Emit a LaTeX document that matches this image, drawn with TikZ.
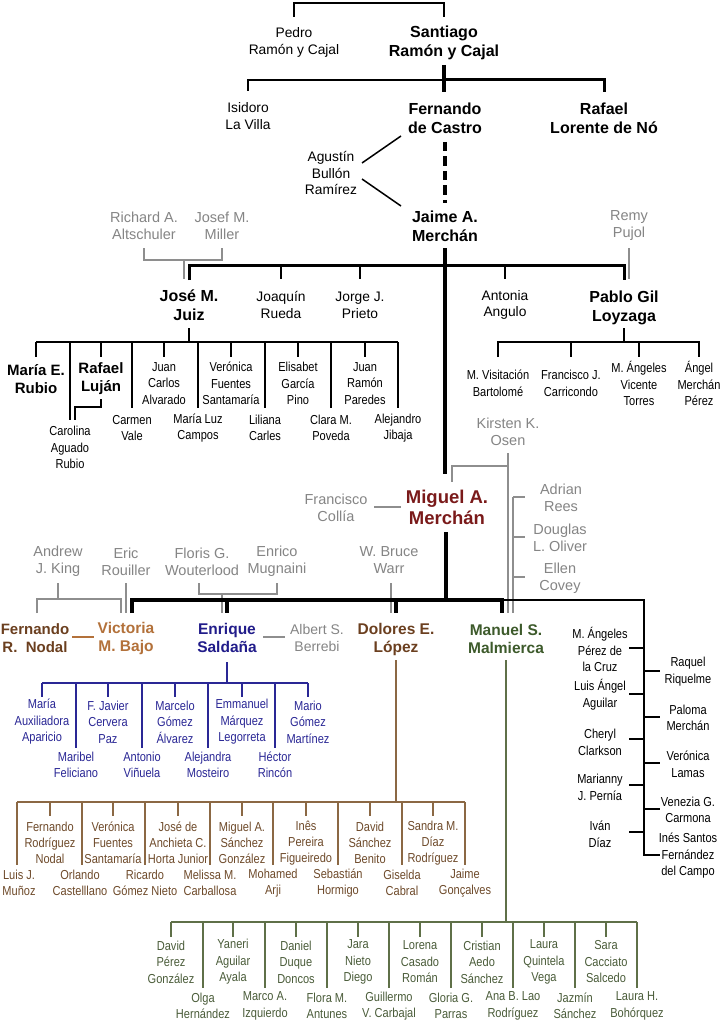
\documentclass[tikz,border=0pt]{standalone}
\usepackage{fontspec}
\setmainfont{Liberation Sans}
\newfontfamily\nfont[FakeStretch=0.85]{Liberation Sans}
\newfontfamily\rfont{Liberation Sans}
\definecolor{grayT}{HTML}{858585}
\definecolor{grayL}{HTML}{8E8E8E}
\definecolor{dred}{HTML}{7A1A1A}
\definecolor{brwn}{HTML}{6B3F1F}
\definecolor{orng}{HTML}{B3713A}
\definecolor{navy}{HTML}{211C8A}
\definecolor{grn}{HTML}{3D5A2B}
\definecolor{navyS}{HTML}{2A2795}
\definecolor{brwnS}{HTML}{6E4A2A}
\definecolor{brwnL}{HTML}{8B6844}
\definecolor{grnS}{HTML}{4A5C39}
\definecolor{grnL}{HTML}{5F7048}
\newcommand\stub[4][]{\draw[#1] (#2 |- 0,#3) -- (#2 |- 0,#4);}
\tikzset{
  base/.style={align=center, inner sep=0pt, outer sep=0pt},
  nm/.style={base, font=\nfont\fontsize{13}{16.5}\selectfont},
  tp/.style={base, font=\rfont\fontsize{13.8}{16.8}\selectfont},
  bd/.style={base, font=\rfont\bfseries\fontsize{16}{18.5}\selectfont},
  bdc/.style={base, font=\rfont\bfseries\fontsize{15.5}{18}\selectfont},
  bds/.style={base, font=\rfont\bfseries\fontsize{15}{18}\selectfont},
  gy/.style={base, text=grayT, font=\rfont\fontsize{14.5}{17}\selectfont},
  navyT/.style={nm, text=navyS},
  brwnT/.style={base, text=brwnS, font=\nfont\fontsize{13}{15.8}\selectfont},
  grnT/.style={nm, text=grnS},
  ln/.style={line width=1.5pt, black},
  gl/.style={line width=2pt, grayL},
  nl/.style={line width=1.6pt, navyS},
  bl/.style={line width=1.6pt, brwnL},
  ggl/.style={line width=1.6pt, grnL},
}
\begin{document}
\begin{tikzpicture}[x=1pt,y=-1pt, line join=miter]
\path[use as bounding box, fill=white] (0,0) rectangle (722,1024);

% ---------- top generations
\node[tp] (pedro) at (294,42.5) {Pedro\\Ramón y Cajal};
\node[bd] (santiago) at (444,43) {Santiago\\Ramón y Cajal};
\draw[ln] (pedro |- 0,17) -- (pedro |- 0,3) -- (santiago |- 0,3) -- (santiago |- 0,17);
\node[tp] (isidoro) at (248,116) {Isidoro\\La Villa};
\node[bd] (castro) at (445,118.5) {Fernando\\de Castro};
\node[bd] (lorente) at (604,118.5) {Rafael\\Lorente de Nó};
\draw[line width=4pt] (santiago |- 0,65) -- (santiago |- 0,92);
\draw[line width=2pt] (isidoro |- 0,91) -- (isidoro |- 0,80) -- (santiago |- 0,80);
\draw[line width=3pt] (santiago |- 0,80) -- (lorente |- 0,80) -- (lorente |- 0,92);
\node[tp] (agustin) at (331,173) {Agustín\\Bullón\\Ramírez};
\draw[line width=4pt, dash pattern=on 9.5pt off 5pt] (castro |- 0,142) -- (castro |- 0,203);
\coordinate (ag1) at (362,163); \coordinate (ag2) at (362,179);
\coordinate (fc) at (401,136); \coordinate (jm) at (401,206);
\draw[ln] (ag1) -- (fc);
\draw[ln] (ag2) -- (jm);

\node[bd] (jaime) at (445,226.5) {Jaime A.\\Merchán};
\node[gy] (richard) at (144,226) {Richard A.\\Altschuler};
\node[gy] (josef) at (222,226) {Josef M.\\Miller};
\node[gy] (remy) at (629,226) {Remy\\Pujol};
\node[bd] (juiz) at (189,305) {José M.\\Juiz};
\node[tp] (rueda) at (281,305) {Joaquín\\Rueda};
\node[tp] (prieto) at (360,305) {Jorge J.\\Prieto};
\node[tp] (angulo) at (505,305) {Antonia\\Angulo};
\node[bd] (loyzaga) at (624,308) {Pablo Gil\\Loyzaga};

\draw[gl] (richard |- 0,248) -- (richard |- 0,260) -- (josef |- 0,260) -- (josef |- 0,248);
\draw[gl] (184,260) -- (184,279);
\draw[gl] (remy |- 0,248) -- (remy |- 0,279);
\draw[line width=3pt] (juiz |- 0,280) -- (juiz |- 0,265) -- (loyzaga |- 0,265) -- (loyzaga |- 0,280);
\stub[ln]{rueda}{265}{279}
\stub[ln]{prieto}{265}{279}
\stub[ln]{angulo}{265}{279}
\draw[line width=4.5pt] (jaime |- 0,248) -- (jaime |- 0,474);

% ---------- Juiz students
\node[bds] (rubio) at (36,379) {María E.\\Rubio};
\node[bds] (lujan) at (101,379) {Rafael\\Luján};
\node[nm] (carolina) at (70,447.5) {Carolina\\Aguado\\Rubio};
\node[nm] (vale) at (132,428) {Carmen\\Vale};
\node[nm] (alvarado) at (164,383.5) {Juan\\Carlos\\Alvarado};
\node[nm] (campos) at (198,428) {María Luz\\Campos};
\node[nm] (fuentes) at (231,383.5) {Verónica\\Fuentes\\Santamaría};
\node[nm] (carles) at (265,428) {Liliana\\Carles};
\node[nm] (garcia) at (298,383.5) {Elisabet\\García\\Pino};
\node[nm] (poveda) at (331,428) {Clara M.\\Poveda};
\node[nm] (paredes) at (365,383.5) {Juan\\Ramón\\Paredes};
\node[nm] (jibaja) at (398,428) {Alejandro\\Jibaja};
\draw[line width=2.5pt] (juiz |- 0,328) -- (juiz |- 0,343);
\draw[ln] (rubio |- 0,342) -- (jibaja |- 0,342);
\foreach \n in {rubio,lujan,alvarado,fuentes,garcia,paredes} {\stub[ln]{\n}{342}{357}}
\foreach \n in {vale,campos,carles,poveda,jibaja} {\stub[ln]{\n}{342}{408}}
\stub[ln]{carolina}{342}{420}
\draw[ln] (lujan |- 0,399) -- (lujan |- 0,407) -- (75,407) -- (75,420);

% ---------- Gil Loyzaga students
\node[nm] (visitacion) at (498,383.5) {M. Visitación\\Bartolomé};
\node[nm] (carricondo) at (571,383.5) {Francisco J.\\Carricondo};
\node[nm] (vicente) at (639,383.5) {M. Ángeles\\Vicente\\Torres};
\node[nm] (angel) at (699,383.5) {Ángel\\Merchán\\Pérez};
\draw[line width=2.5pt] (loyzaga |- 0,328) -- (loyzaga |- 0,343);
\draw[ln] (visitacion |- 0,357) -- (visitacion |- 0,342) -- (angel |- 0,342) -- (angel |- 0,357);
\stub[ln]{carricondo}{342}{357}
\stub[ln]{vicente}{342}{357}

% ---------- Miguel A. Merchán
\node[gy] (kirsten) at (508,431.5) {Kirsten K.\\Osen};
\node[base, text=dred, font=\rfont\bfseries\fontsize{18.5}{21}\selectfont] (miguel) at (447,507.5) {Miguel A.\\Merchán};
\node[gy] (collia) at (336,508) {Francisco\\Collía};
\node[gy] (rees) at (561,497.5) {Adrian\\Rees};
\node[gy] (oliver) at (560,537.5) {Douglas\\L. Oliver};
\node[gy] (covey) at (560,578.5) {Ellen\\Covey};
\draw[gl] (kirsten |- 0,453) -- (kirsten |- 0,613);
\draw[gl] (kirsten |- 0,466) -- (452,466) -- (452,482);
\draw[gl] (374,507) -- (401,507);
\draw[gl] (513,497) -- (513,613);
\draw[gl] (513,497) -- (525,497);
\draw[gl] (513,537) -- (525,537);
\draw[gl] (513,577) -- (525,577);
\draw[line width=4.5pt] (446,532) -- (446,600);

% ---------- third generation
\node[gy] (king) at (58,561.5) {Andrew\\J. King};
\node[gy] (rouiller) at (126,561.5) {Eric\\Rouiller};
\node[gy] (floris) at (202,561.5) {Floris G.\\Wouterlood};
\node[gy] (mugnaini) at (277,561.5) {Enrico\\Mugnaini};
\node[gy] (warr) at (389,560.5) {W. Bruce\\Warr};
\node[bds, text=brwn] (nodal) at (35,638) {Fernando\\R.\ \ Nodal};
\node[bdc, text=orng] (bajo) at (126,638) {Victoria\\M. Bajo};
\node[bdc, text=navy] (saldana) at (227,638) {Enrique\\Saldaña};
\node[gy, font=\rfont\fontsize{14}{17}\selectfont] (berrebi) at (317,638) {Albert S.\\Berrebi};
\node[bdc, text=brwn] (lopez) at (396,639) {Dolores E.\\López};
\node[bdc, text=grn] (malmierca) at (506,639) {Manuel S.\\Malmierca};

\draw[gl] (king |- 0,583) -- (king |- 0,599);
\draw[gl] (37,613) -- (37,599) -- (121,599) -- (121,613);
\draw[gl] (rouiller |- 0,583) -- (rouiller |- 0,613);
\draw[gl] (199,583) -- (199,594) -- (mugnaini |- 0,594) -- (mugnaini |- 0,583);
\draw[gl] (222,594) -- (222,613);
\draw[gl] (391,583) -- (391,613);
\draw[line width=2.5pt, orng] (72,637) -- (94,637);
\draw[gl] (263,637) -- (285,637);

\draw[line width=4pt] (132,613) -- (132,600) -- (502,600) -- (502,613);
\draw[line width=4pt] (saldana |- 0,600) -- (saldana |- 0,613);
\draw[line width=4pt] (lopez |- 0,600) -- (lopez |- 0,613);
\draw[line width=2pt] (502,600) -- (644,600) -- (644,855) -- (660,855);

% ---------- right column
\node[nm] (pdlc) at (600,649.5) {M. Ángeles\\Pérez de\\la Cruz};
\node[nm] (aguilar) at (600,694.5) {Luis Ángel\\Aguilar};
\node[nm] (clarkson) at (600,742.5) {Cheryl\\Clarkson};
\node[nm] (pernia) at (600,787.5) {Marianny\\J. Pernía};
\node[nm] (diaz) at (600,834.5) {Iván\\Díaz};
\node[nm] (riquelme) at (688,671.5) {Raquel\\Riquelme};
\node[nm] (paloma) at (688,718) {Paloma\\Merchán};
\node[nm] (lamas) at (688,764.5) {Verónica\\Lamas};
\node[nm] (carmona) at (688,810) {Venezia G.\\Carmona};
\node[nm] (ines) at (688,856) {Inés Santos\\Fernández\\del Campo};
\foreach \y in {648,694,739,785,832} {\draw[line width=2pt] (629,\y) -- (644,\y);}
\foreach \y in {671,717,763,809} {\draw[line width=2pt] (644,\y) -- (660,\y);}

% ---------- Saldaña students
\draw[line width=2.5pt, navyS] (saldana |- 0,662) -- (saldana |- 0,684);
\foreach \n/\x/\t in {auxiliadora/42/{María\\Auxiliadora\\Aparicio}, javier/108/{F. Javier\\Cervera\\Paz}, marcelo/175/{Marcelo\\Gómez\\Álvarez}, emmanuel/242/{Emmanuel\\Márquez\\Legorreta}, mario/308/{Mario\\Gómez\\Martínez}} {
  \node[navyT] (\n) at (\x,722) {\t};
  \stub[nl]{\n}{683}{697}
}
\foreach \n/\x/\t in {maribel/76/{Maribel\\Feliciano}, antonio/142/{Antonio\\Viñuela}, alejandra/208/{Alejandra\\Mosteiro}, hector/275/{Héctor\\Rincón}} {
  \node[navyT] (\n) at (\x,765) {\t};
  \stub[nl]{\n}{683}{748}
}
\draw[nl] (auxiliadora |- 0,683) -- (mario |- 0,683);

% ---------- López students
\draw[line width=2.2pt, brwnL] (lopez |- 0,660) -- (lopez |- 0,802);
\foreach \n/\x/\t in {frnodal/50/{Fernando\\Rodríguez\\Nodal}, vfuentes/113/{Verónica\\Fuentes\\Santamaría}, anchieta/178/{José de\\Anchieta C.\\Horta Junior}, msanchez/242/{Miguel A.\\Sánchez\\González}, pereira/306/{Inês\\Pereira\\Figueiredo}, dsanchez/370/{David\\Sánchez\\Benito}, sandra/433/{Sandra M.\\Díaz\\Rodríguez}} {
  \node[brwnT] (\n) at (\x,843) {\t};
  \stub[bl]{\n}{802}{816}
}
\foreach \n/\x/\t in {luis/19/{Luis J.\\Muñoz}, orlando/80/{Orlando\\Castelllano}, ricardo/145/{Ricardo\\Gómez Nieto}, melissa/210/{Melissa M.\\Carballosa}, mohamed/273/{Mohamed\\Arji}, sebastian/338/{Sebastián\\Hormigo}, giselda/402/{Giselda\\Cabral}, jgoncalves/465/{Jaime\\Gonçalves}} {
  \node[brwnT] (\n) at (\x,883) {\t};
}
\foreach \n/\x in {luis/17, orlando/82, ricardo/145, melissa/210, mohamed/273, sebastian/338, giselda/402, jgoncalves/465} {
  \draw[bl] (\x,802) -- (\x,865);
}
\draw[bl] (17,802) -- (465,802);

% ---------- Malmierca students
\draw[line width=2.2pt, grnL] (malmierca |- 0,660) -- (malmierca |- 0,922);
\foreach \n/\x/\t in {dperez/171/{David\\Pérez\\González}, yaneri/233/{Yaneri\\Aguilar\\Ayala}, daniel/296/{Daniel\\Duque\\Doncos}, jara/358/{Jara\\Nieto\\Diego}, lorena/420/{Lorena\\Casado\\Román}, cristian/482/{Cristian\\Aedo\\Sánchez}, lquintela/544/{Laura\\Quintela\\Vega}, sara/606/{Sara\\Cacciato\\Salcedo}} {
  \node[grnT] (\n) at (\x,962) {\t};
  \stub[ggl]{\n}{922}{937}
}
\foreach \n/\x/\t in {olga/203/{Olga\\Hernández}, marco/265/{Marco A.\\Izquierdo}, flora/327/{Flora M.\\Antunes}, guillermo/389/{Guillermo\\V. Carbajal}, gloria/451/{Gloria G.\\Parras}, anab/513/{Ana B. Lao\\Rodríguez}, jazmin/575/{Jazmín\\Sánchez}, laurah/637/{Laura H.\\Bohórquez}} {
  \node[grnT] (\n) at (\x,1006) {\t};
  \stub[ggl]{\n}{922}{988}
}
\draw[ggl] (dperez |- 0,922) -- (laurah |- 0,922);
\end{tikzpicture}
\end{document}
